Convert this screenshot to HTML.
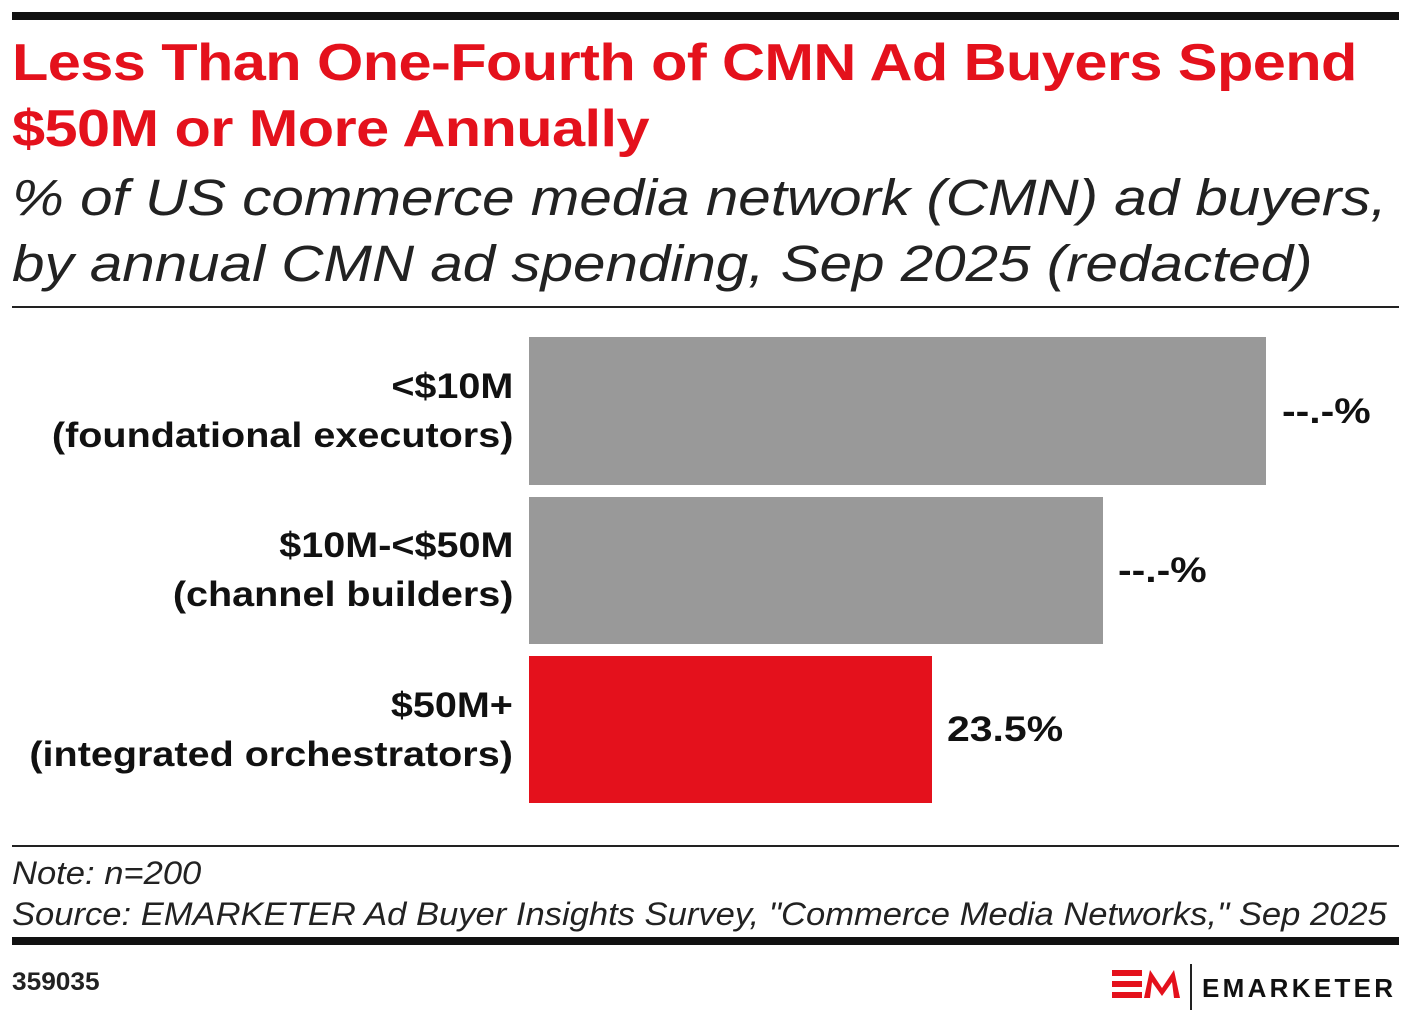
<!DOCTYPE html>
<html><head><meta charset="utf-8"><style>
body{margin:0;width:1410px;height:1021px;background:#fff;font-family:"Liberation Sans",sans-serif;position:relative;overflow:hidden;color:#222}
.a{position:absolute}
.lbl{position:absolute;right:897px;text-align:right;font-weight:bold;font-size:35px;line-height:49px;color:#111;transform:scaleX(1.13);transform-origin:right}
.val{position:absolute;font-weight:bold;font-size:35px;color:#111;transform:scaleX(1.17);transform-origin:left}
</style></head><body>
<div class="a" style="left:12px;top:12px;width:1387px;height:8px;background:#111"></div>
<div class="a" style="left:12px;top:30px;font-weight:bold;font-size:52px;line-height:66px;color:#e4111c;letter-spacing:-0.5px;transform:scaleX(1.144);transform-origin:left;white-space:nowrap">Less Than One-Fourth of CMN Ad Buyers Spend<br>$50M or More Annually</div>
<div class="a" style="left:12px;top:165px;font-style:italic;font-size:51px;line-height:66px;color:#222;transform:scaleX(1.144);transform-origin:left;white-space:nowrap">% of US commerce media network (CMN) ad buyers,<br>by annual CMN ad spending, Sep 2025 (redacted)</div>
<div class="a" style="left:12px;top:306px;width:1387px;height:2px;background:#222"></div>
<div class="a" style="left:529px;top:337px;width:737px;height:148px;background:#999"></div>
<div class="a" style="left:529px;top:497px;width:574px;height:147px;background:#999"></div>
<div class="a" style="left:529px;top:656px;width:403px;height:147px;background:#e4111c"></div>
<div class="lbl" style="top:362px">&lt;$10M<br>(foundational executors)</div>
<div class="lbl" style="top:521px">$10M-&lt;$50M<br>(channel builders)</div>
<div class="lbl" style="top:681px">$50M+<br>(integrated orchestrators)</div>
<div class="val" style="left:1282px;top:392px">--.-%</div>
<div class="val" style="left:1118px;top:551px">--.-%</div>
<div class="val" style="left:947px;top:710px">23.5%</div>
<div class="a" style="left:12px;top:845px;width:1387px;height:2px;background:#222"></div>
<div class="a" style="left:12px;top:853px;font-style:italic;font-size:32px;line-height:41px;transform:scaleX(1.08);transform-origin:left;white-space:nowrap">Note: n=200<br>Source: EMARKETER Ad Buyer Insights Survey, "Commerce Media Networks," Sep 2025</div>
<div class="a" style="left:12px;top:937px;width:1387px;height:8px;background:#111"></div>
<div class="a" style="left:12px;top:968px;font-weight:bold;font-size:25px;transform:scaleX(1.05);transform-origin:left">359035</div>
<svg class="a" style="left:1110px;top:962px" width="300" height="50">
<rect x="2" y="8" width="30" height="6" fill="#e4111c"/><rect x="2" y="19" width="30" height="6" fill="#e4111c"/><rect x="2" y="30" width="30" height="6" fill="#e4111c"/>
<polygon points="34,36 40,8 52,26 64,8 70,36 64,36 62,20 52,34 42,20 40,36" fill="#e4111c"/>
<rect x="80" y="2" width="2" height="46" fill="#222"/>
<text x="92" y="35" font-family="Liberation Sans" font-weight="bold" font-size="26" letter-spacing="3.3" fill="#111">EMARKETER</text>
</svg>
</body></html>
